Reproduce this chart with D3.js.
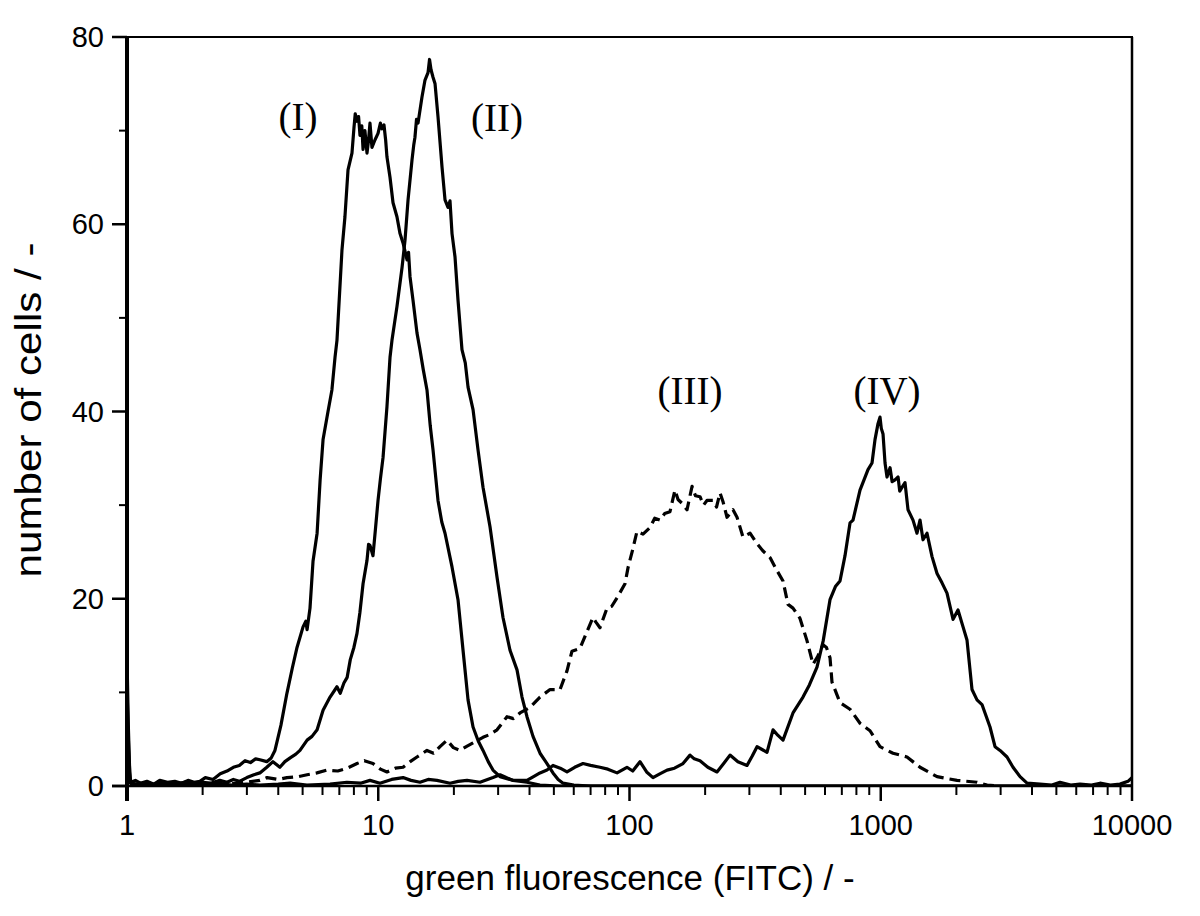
<!DOCTYPE html>
<html>
<head>
<meta charset="utf-8">
<script src="https://cdn.jsdelivr.net/npm/d3@7"></script>
<style>
  html, body { margin: 0; padding: 0; background: #fff; }
  svg { display: block; }
</style>
</head>
<body>
<svg id="chart" width="1200" height="916"></svg>
<script>
// ---- data ----
const xTickValues = [1, 10, 100, 1000, 10000];
const xTickLabels = ["1", "10", "100", "1000", "10000"];
const yTickValues = [0, 20, 40, 60, 80];
const yTickLabels = ["0", "20", "40", "60", "80"];
const yMinorTicks = [10, 30, 50, 70];
const xTitle = "green fluorescence (FITC) / -";
const yTitle = "number of cells / -";
const seriesNames = ["(I)", "(II)", "(III)", "(IV)"];
const labelAnchors = [[4.79, 70.1], [29.7, 70.0], [174, 40.8], [1059, 40.8]];

const curveI = [[1.00,13.8],[1.012,6.5],[1.025,1.5],[1.035,0.4],[1.08,0.6],[1.13,0.3],[1.2,0.5],[1.28,0.2],[1.35,0.6],[1.45,0.4],[1.55,0.5],[1.65,0.3],[1.75,0.6],[1.85,0.4],[1.95,0.5],[2.05,0.9],[2.2,0.7],[2.35,1.3],[2.5,1.6],[2.65,2.0],[2.8,2.2],[2.95,2.7],[3.1,2.5],[3.25,2.9],[3.38,2.8],[3.6,2.6],[3.75,3.0],[3.88,3.8],[4.1,6.5],[4.33,9.9],[4.55,12.6],[4.75,14.8],[5.02,17.0],[5.15,17.6],[5.21,16.7],[5.35,19.0],[5.5,24.0],[5.71,27.0],[5.87,32.7],[6.03,37.0],[6.31,40.0],[6.54,42.3],[6.73,45.8],[6.85,47.6],[7.17,57.2],[7.37,60.8],[7.58,65.8],[7.86,67.6],[8.01,70.4],[8.1,71.8],[8.23,71.0],[8.35,71.5],[8.46,69.5],[8.6,70.5],[8.7,68.0],[8.85,70.0],[9.02,67.6],[9.15,69.0],[9.27,70.8],[9.44,68.2],[9.7,69.0],[9.98,69.7],[10.2,70.8],[10.35,70.2],[10.54,70.6],[10.7,69.0],[10.83,67.2],[11.14,65.0],[11.45,62.3],[11.87,60.8],[12.21,59.0],[12.55,58.0],[13.02,56.2],[13.2,57.0],[13.38,54.4],[13.75,51.9],[14.26,48.4],[14.66,46.6],[15.1,44.5],[15.63,42.3],[16.1,38.5],[16.52,35.9],[17.29,30.5],[17.9,28.2],[18.44,27.0],[19.66,23.4],[20.77,19.9],[21.75,14.5],[22.77,9.2],[23.84,6.3],[25.0,4.8],[26.12,3.8],[27.4,2.6],[28.62,1.7],[30.52,1.0],[34.39,0.6],[39.08,0.4],[44.0,0.1],[52.9,0],[10000,0]];

const curveII = [[1.00,10.5],[1.015,4],[1.03,0.3],[1.1,0.2],[1.2,0.4],[1.3,0.1],[1.4,0.3],[1.55,0.2],[1.7,0.4],[1.85,0.2],[2.0,0.4],[2.15,0.3],[2.34,0.6],[2.5,0.4],[2.65,0.7],[2.8,0.5],[3.0,0.9],[3.2,1.2],[3.38,1.4],[3.6,2.0],[3.81,2.6],[4.06,2.0],[4.25,2.6],[4.46,3.0],[4.7,3.4],[4.88,3.8],[5.21,4.9],[5.45,5.3],[5.71,6.0],[6.03,8.1],[6.2,8.7],[6.43,9.5],[6.85,10.6],[7.06,9.9],[7.3,11.0],[7.52,11.6],[7.74,13.5],[8.0,14.8],[8.23,16.3],[8.45,18.5],[8.7,21.6],[9.02,24.1],[9.15,25.8],[9.27,25.7],[9.53,24.6],[9.75,27.5],[9.98,30.5],[10.2,32.8],[10.45,35.1],[10.83,40.5],[11.14,45.8],[11.34,47.6],[11.87,51.2],[12.44,55.4],[12.78,58.3],[13.14,62.6],[13.63,66.9],[13.85,68.5],[14.0,69.3],[14.2,71.2],[14.4,70.8],[14.93,73.6],[15.35,75.4],[15.78,76.2],[16.0,77.6],[16.22,76.5],[16.52,75.7],[16.83,75.0],[17.29,71.5],[17.94,66.1],[18.44,62.6],[18.95,61.8],[19.3,62.5],[19.66,59.0],[20.21,56.5],[20.77,51.9],[21.54,46.6],[22.2,45.2],[22.77,42.6],[23.84,40.2],[24.95,35.9],[26.12,31.9],[27.85,27.7],[29.7,22.3],[31.37,18.0],[33.45,14.5],[35.67,12.4],[37.34,9.5],[39.08,7.4],[41.3,5.3],[44.04,3.5],[46.95,2.4],[49.6,1.4],[52.0,0.7],[54.4,0.3],[60,0.1],[70,0],[10000,0]];

const curveIII = [[1.03,0.1],[1.5,0.1],[2.0,0.2],[2.5,0.2],[3.0,0.4],[3.38,0.6],[3.61,0.9],[4.0,0.7],[4.33,0.9],[4.8,1.0],[5.21,1.2],[5.7,1.4],[6.25,1.7],[6.9,1.6],[7.51,1.9],[8.23,2.4],[8.8,2.7],[9.53,2.4],[10.2,1.8],[10.83,1.5],[11.7,1.9],[12.55,2.0],[13.4,2.6],[14.26,3.1],[15.63,3.8],[16.6,3.5],[17.61,4.2],[18.77,4.9],[19.9,4.1],[21.15,3.8],[22.4,4.2],[23.84,4.6],[26.12,5.2],[27.8,5.5],[29.7,6.0],[32.54,7.4],[34.5,7.2],[36.66,7.8],[40.18,8.4],[44.04,9.5],[48.28,10.3],[52.9,10.3],[56.4,12.3],[59.03,14.4],[63.53,14.7],[67.73,16.5],[71.55,18.0],[73.5,17.5],[76.3,16.9],[81.37,19.0],[85,19.2],[89.2,20.1],[95.96,21.6],[98.63,23.3],[103.3,25.4],[107.1,27.2],[113.2,26.9],[120.7,27.6],[126,28.6],[132.3,28.4],[138,29.1],[144.9,29.3],[151.7,31.6],[156,30.6],[161.8,30.2],[169.4,29.5],[177.4,32.0],[183,31.0],[190.8,30.9],[197,30.0],[203.4,30.5],[214.9,30.5],[222,29.8],[229.2,31.3],[236,30.3],[244.4,28.7],[258.2,29.5],[267.9,28.7],[282.9,26.6],[301.8,27.0],[321.8,25.9],[340,25.1],[362.5,24.4],[386.5,23.0],[408.3,21.9],[427.4,19.4],[447.4,19.0],[477.2,17.9],[508.9,15.5],[537.5,13.0],[560,13.8],[589.1,15.1],[608,14.8],[628.1,13.7],[639.7,11.1],[688.4,8.9],[754.5,8.2],[826.9,6.7],[906.4,5.9],[993.2,4.2],[1119,3.5],[1272,3.1],[1433,2.0],[1675,1.0],[2012,0.6],[2416,0.4],[2649,0.1],[2900,0]];

const curveIV = [[1.03,0.2],[1.2,0.1],[1.4,0.3],[1.6,0.1],[1.8,0.2],[2.0,0.1],[2.3,0.3],[2.6,0.1],[3.0,0.2],[3.38,0.1],[4.0,0.2],[4.46,0.3],[5.2,0.1],[6.43,0.2],[7.5,0.4],[8.5,0.3],[9.27,0.6],[10.16,0.3],[11.3,0.7],[12.55,0.9],[13.5,0.6],[14.66,0.4],[15.8,0.7],[17.13,0.6],[19.31,0.3],[20.8,0.5],[22.56,0.6],[25.41,0.4],[28.62,0.9],[30.52,1.2],[32.3,0.9],[34.39,0.6],[39.08,0.6],[41.5,1.0],[44.04,1.4],[46.95,1.7],[49.6,2.2],[53,1.9],[56.4,1.5],[60.5,2.0],[65.3,2.4],[70,2.2],[76.3,2.0],[82,1.8],[89.2,1.4],[97.7,2.0],[103,1.6],[110.1,2.6],[117,1.5],[124.0,0.9],[132,1.3],[141.1,1.7],[151,1.9],[163.3,2.4],[174.1,3.3],[181,2.9],[190.8,2.7],[205,2.0],[223.0,1.5],[237,2.4],[251.2,3.3],[270,2.6],[293.6,2.2],[308,3.2],[321.8,4.2],[337,3.9],[352.6,3.6],[372.6,6.0],[390,5.4],[408.3,4.9],[447.4,7.8],[490.4,9.5],[520,10.8],[557.5,12.7],[590,15.5],[628.1,19.9],[660,21.3],[688.4,21.9],[720.7,24.6],[754.5,28.1],[775.5,28.4],[826.9,31.6],[889.8,33.8],[923.0,34.5],[948.7,37.0],[975.2,38.7],[993.2,39.4],[1005,38.2],[1021,37.6],[1040,34.5],[1059,33.0],[1089,34.0],[1110,32.5],[1140,32.7],[1172,33.0],[1190,31.5],[1215,31.9],[1249,32.4],[1284,29.5],[1344,28.4],[1394,27.0],[1433,28.4],[1473,26.3],[1528,27.0],[1600,24.5],[1675,22.7],[1753,21.7],[1835,20.6],[1940,17.8],[2030,18.8],[2126,17.0],[2204,15.6],[2308,10.3],[2416,9.2],[2529,8.7],[2600,7.8],[2722,6.3],[2850,4.2],[2984,3.8],[3181,3.1],[3361,2.0],[3584,1.0],[3821,0.3],[4303,0.2],[4800,0.1],[5169,0.4],[5700,0.1],[6209,0.2],[6900,0.1],[7459,0.3],[8200,0.1],[8960,0.2],[9640,0.5],[10000,0.9]];

// ---- layout ----
const plot = { left: 127, right: 1132, top: 37, bottom: 786 };
const svg = d3.select("#chart");

const x = d3.scaleLog().domain([1, 10000]).range([plot.left, plot.right]);
const y = d3.scaleLinear().domain([0, 80]).range([plot.bottom, plot.top]);

svg.append("defs").append("clipPath").attr("id", "clip")
  .append("rect")
  .attr("x", plot.left).attr("y", plot.top - 2)
  .attr("width", plot.right - plot.left + 1)
  .attr("height", plot.bottom - plot.top + 2);

const line = d3.line().x(d => x(d[0])).y(d => y(d[1]));

const curves = svg.append("g").attr("clip-path", "url(#clip)");
[[curveI, null], [curveII, null], [curveIV, null], [curveIII, "11,6"]].forEach(([data, dash]) => {
  curves.append("path")
    .datum(data)
    .attr("d", line)
    .attr("fill", "none")
    .attr("stroke", "#000")
    .attr("stroke-width", 3.2)
    .attr("stroke-linejoin", "round")
    .attr("stroke-dasharray", dash);
});

// ---- frame ----
const frame = svg.append("g").attr("stroke", "#000").attr("fill", "none");
frame.append("line").attr("x1", plot.left - 15).attr("x2", plot.right + 1)
  .attr("y1", y(80)).attr("y2", y(80)).attr("stroke-width", 2);
frame.append("line").attr("x1", plot.right).attr("x2", plot.right)
  .attr("y1", plot.top).attr("y2", plot.bottom).attr("stroke-width", 2.5);

// ---- x axis ----
const xAxis = svg.append("g");
xAxis.append("line").attr("x1", plot.left - 15).attr("x2", plot.right + 1)
  .attr("y1", plot.bottom).attr("y2", plot.bottom)
  .attr("stroke", "#000").attr("stroke-width", 2.5);
const minorX = [];
for (let dec = 1; dec < 10000; dec *= 10) for (let m = 2; m <= 9; m++) minorX.push(dec * m);
xAxis.selectAll(".xminor").data(minorX).join("line")
  .attr("x1", d => x(d)).attr("x2", d => x(d))
  .attr("y1", plot.bottom).attr("y2", plot.bottom + 9)
  .attr("stroke", "#000").attr("stroke-width", 2);
xAxis.selectAll(".xmajor").data(xTickValues).join("line")
  .attr("x1", d => x(d)).attr("x2", d => x(d))
  .attr("y1", plot.bottom).attr("y2", plot.bottom + 15)
  .attr("stroke", "#000").attr("stroke-width", 2.5);
xAxis.selectAll(".xlab").data(xTickValues).join("text")
  .attr("x", d => x(d)).attr("y", 835)
  .attr("text-anchor", "middle")
  .attr("font-family", "Liberation Sans, Arial, sans-serif")
  .attr("font-size", 29)
  .text((d, i) => xTickLabels[i]);

// ---- y axis ----
const yAxis = svg.append("g");
yAxis.append("line").attr("x1", plot.left).attr("x2", plot.left)
  .attr("y1", plot.top - 1).attr("y2", plot.bottom + 15)
  .attr("stroke", "#000").attr("stroke-width", 4);
yAxis.selectAll(".ymajor").data(yTickValues).join("line")
  .attr("x1", plot.left - 15).attr("x2", plot.left)
  .attr("y1", d => y(d)).attr("y2", d => y(d))
  .attr("stroke", "#000").attr("stroke-width", 2.5);
yAxis.selectAll(".yminor").data(yMinorTicks).join("line")
  .attr("x1", plot.left - 8).attr("x2", plot.left)
  .attr("y1", d => y(d)).attr("y2", d => y(d))
  .attr("stroke", "#000").attr("stroke-width", 2);
yAxis.selectAll(".ylab").data(yTickValues).join("text")
  .attr("x", 104).attr("y", d => y(d) + 10)
  .attr("text-anchor", "end")
  .attr("font-family", "Liberation Sans, Arial, sans-serif")
  .attr("font-size", 29)
  .text((d, i) => yTickLabels[i]);

// ---- titles ----
svg.append("text")
  .attr("x", 630).attr("y", 890)
  .attr("text-anchor", "middle")
  .attr("font-family", "Liberation Sans, Arial, sans-serif")
  .attr("font-size", 35)
  .text(xTitle);
svg.append("text")
  .attr("transform", "translate(41,410) rotate(-90)")
  .attr("text-anchor", "middle")
  .attr("font-family", "Liberation Sans, Arial, sans-serif")
  .attr("font-size", 36)
  .attr("textLength", 335)
  .attr("lengthAdjust", "spacingAndGlyphs")
  .text(yTitle);

// ---- series annotations ----
svg.selectAll(".ann").data(seriesNames).join("text")
  .attr("x", (d, i) => x(labelAnchors[i][0]))
  .attr("y", (d, i) => y(labelAnchors[i][1]))
  .attr("text-anchor", "middle")
  .attr("font-family", "Liberation Serif, Times New Roman, serif")
  .attr("font-size", 39)
  .text(d => d);
</script>
</body>
</html>
